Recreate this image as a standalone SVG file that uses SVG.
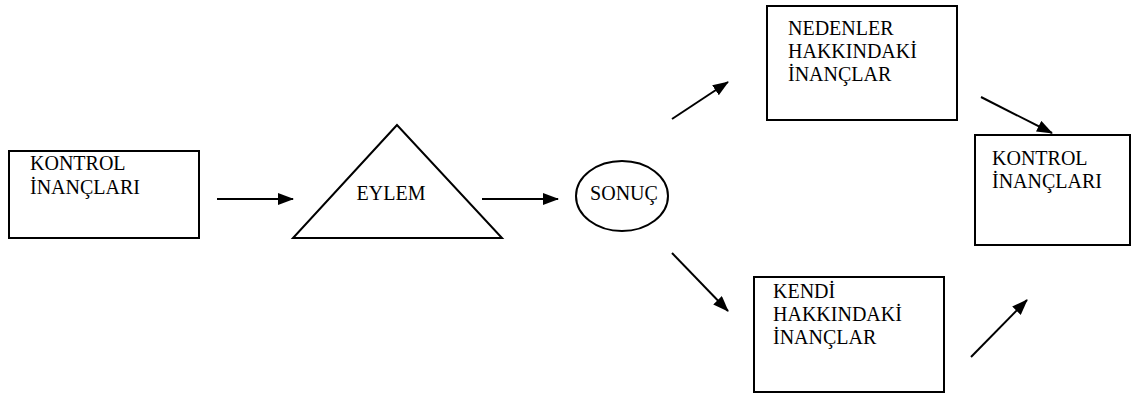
<svg xmlns="http://www.w3.org/2000/svg" width="1138" height="394" viewBox="0 0 1138 394">
<style>
.box{fill:#fff;stroke:#000;stroke-width:2}
.t{font-family:'Liberation Serif','Times New Roman',serif;font-size:20px;fill:#000}
.c{stroke:#000;stroke-width:2;fill:none}
</style>
<defs>
<marker id="ah" markerWidth="16" markerHeight="12" refX="15" refY="6" orient="auto" markerUnits="userSpaceOnUse">
<path d="M0,0 L16,6 L0,12 Z" fill="#000"/>
</marker>
</defs>
<rect width="1138" height="394" fill="#fff"/>
<g id="n1">
<rect class="box" x="9" y="151" width="190" height="87"/>
<text class="t" x="30" y="170">KONTROL</text>
<text class="t" x="30" y="194">İNANÇLARI</text>
</g>
<g id="n2">
<polygon class="box" points="397,125 293,238 502,238"/>
<text class="t" x="391" y="200" text-anchor="middle">EYLEM</text>
</g>
<g id="n3">
<ellipse class="box" cx="622" cy="196" rx="46" ry="35"/>
<text class="t" x="624" y="200" text-anchor="middle">SONUÇ</text>
</g>
<g id="n4">
<rect class="box" x="767" y="6" width="190" height="114"/>
<text class="t" x="788" y="35">NEDENLER</text>
<text class="t" x="788" y="58">HAKKINDAKİ</text>
<text class="t" x="788" y="81">İNANÇLAR</text>
</g>
<g id="n5">
<rect class="box" x="754" y="277" width="190" height="115"/>
<text class="t" x="773" y="298">KENDİ</text>
<text class="t" x="773" y="321">HAKKINDAKİ</text>
<text class="t" x="773" y="344">İNANÇLAR</text>
</g>
<g id="n6">
<rect class="box" x="975" y="135" width="155" height="110"/>
<text class="t" x="992" y="165">KONTROL</text>
<text class="t" x="992" y="188">İNANÇLARI</text>
</g>
<g id="connectors">
<line class="c" x1="217" y1="199" x2="293" y2="199" marker-end="url(#ah)"/>
<line class="c" x1="482" y1="199" x2="558" y2="199" marker-end="url(#ah)"/>
<line class="c" x1="672" y1="119" x2="728" y2="82" marker-end="url(#ah)"/>
<line class="c" x1="672" y1="253" x2="728" y2="311" marker-end="url(#ah)"/>
<line class="c" x1="981" y1="97" x2="1052" y2="133" marker-end="url(#ah)"/>
<line class="c" x1="971" y1="357" x2="1027" y2="300" marker-end="url(#ah)"/>
</g>
</svg>
